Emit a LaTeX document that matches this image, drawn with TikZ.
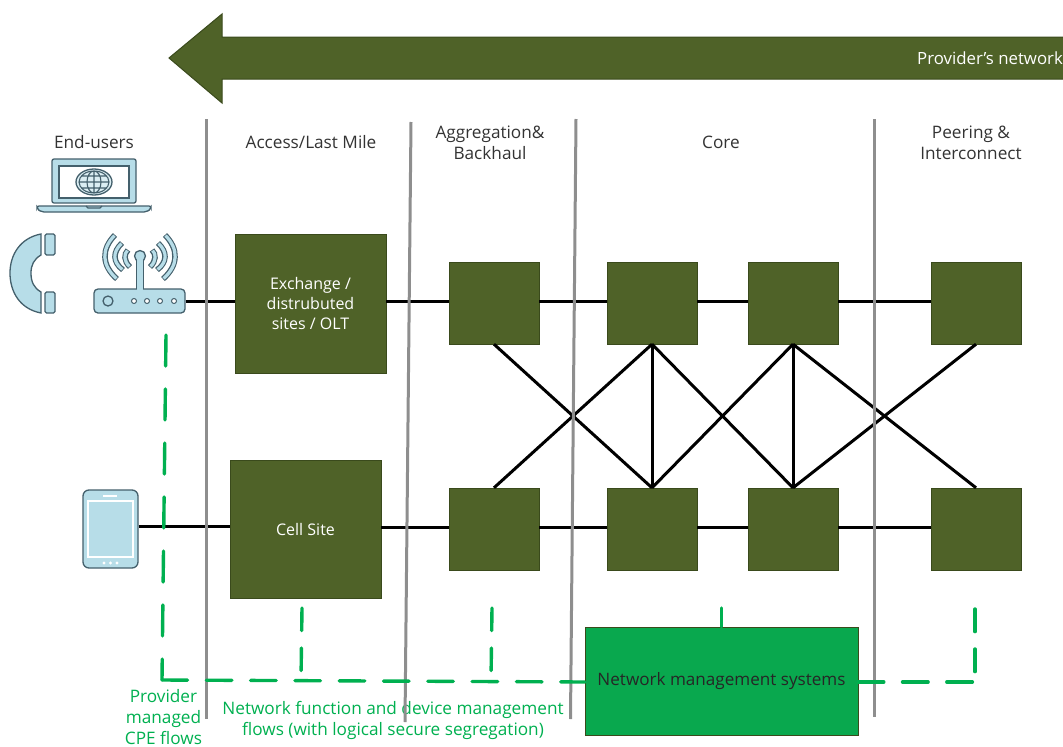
\documentclass[tikz,border=0pt]{standalone}
\usepackage{fontspec}
\setmainfont{Open Sans}
\usetikzlibrary{positioning}
\definecolor{olivebox}{HTML}{4F6228}
\definecolor{olivedark}{HTML}{3A4A1C}
\definecolor{mgmtgreen}{HTML}{00B050}
\definecolor{nmsgreen}{HTML}{09A84E}
\definecolor{iconblue}{HTML}{B7DDE8}
\definecolor{icondark}{HTML}{44606C}
\definecolor{zonegray}{HTML}{8E8E8E}
\tikzset{
  sitebox/.style={draw=olivedark,fill=olivebox,text=white,font=\fontsize{16}{20}\selectfont,align=center,inner sep=0pt},
  corebox/.style={sitebox,minimum width=90pt,minimum height=82pt},
  zonelabel/.style={font=\fontsize{17.2}{21}\selectfont,text=black!80,align=center},
  greenlabel/.style={font=\fontsize{17.2}{21}\selectfont,text=mgmtgreen,align=center},
  link/.style={line width=3pt},
  zoneline/.style={line width=3pt,zonegray},
  flowline/.style={line width=3.4pt,mgmtgreen,line cap=round},
  flow/.style={flowline,dash pattern=on 25.6pt off 18.7pt},
  flowup/.style={flowline,dash pattern=on 22.6pt off 17.4pt},
  flowcpe/.style={flowline,dash pattern=on 31pt off 23pt},
  icon/.style={draw=icondark,fill=iconblue,line width=1.3pt}
}
\begin{document}
\begin{tikzpicture}[x=1pt,y=-1pt]
\useasboundingbox (0,0) rectangle (1063,747);

% big arrow on top
\draw[draw=olivedark,fill=olivebox,line width=1pt] (1064,37) -- (222,37) -- (222,14) -- (169,58) -- (222,103) -- (222,79) -- (1064,79);
\node[anchor=west,text=white,font=\fontsize{16.8}{18}\selectfont,inner sep=0pt] (provider) at (917,58) {Provider's network};

% headings
\node[zonelabel] (users) at (94,142) {End-users};
\node[zonelabel] (access) at (311,142) {Access/Last Mile};
\node[zonelabel] (aggr) at (490,142.5) {Aggregation\&\\Backhaul};
\node[zonelabel] (core) at (721,142) {Core};
\node[zonelabel] (peer) at (971,142.5) {Peering \&\\Interconnect};

% sites
\node[sitebox,minimum width=151pt,minimum height=139pt] (exch) at (310.5,303.5) {Exchange /\\distrubuted\\sites / OLT};
\node[sitebox,minimum width=151pt,minimum height=138pt] (cell) at (305.5,529) {Cell Site};
\foreach \n/\x in {A/494,B/652,C/793,D/976}{
  \node[corebox] (\n-top) at (\x,303) {};
  \node[corebox] (\n-bot) at (\x,529) {};
}
\node[draw=olivedark,fill=nmsgreen,minimum width=273pt,minimum height=108pt,inner sep=0pt,font=\fontsize{17.1}{20}\selectfont,text=black!85] (nms) at (721.5,681) {Network management systems};

% end-user icons
\node[icon,rounded corners=4pt,minimum width=91pt,minimum height=24pt,inner sep=0pt] (router) at (139.5,301) {};
\node[icon,rounded corners=6pt,minimum width=55pt,minimum height=78pt,inner sep=0pt] (tablet) at (110.5,529) {};
\draw[white,line width=1.2pt] (88,501) rectangle (133,557);
\draw[white,line width=1.4pt] (103,496) -- (117,496);
\foreach \x in {104,110.5,117}{
  \fill[white] (\x,563) circle (1.6pt);
}
\draw[icon,rounded corners=2pt] (52,203) -- (52,159) -- (136,159) -- (136,203) -- cycle;
\draw[icondark,fill=white,line width=1.2pt] (59,166) rectangle (129,198);
\draw[icon,rounded corners=2pt] (37,206) -- (151,206) -- (151,209) -- (146,212) -- (42,212) -- (37,209) -- cycle;
\draw[icon,fill=none] (86,206) -- (88,208) -- (100,208) -- (102,206);
\draw[icondark,fill=iconblue!50,line width=1.3pt] (94,182) ellipse (18pt and 13pt);
\draw[icondark,line width=1.1pt] (94,182) ellipse (15pt and 11pt) (94,182) ellipse (7pt and 11pt) (94,171) -- (94,193) (79,182) -- (109,182) (81,176) -- (107,176) (81,188) -- (107,188);
\draw[icon,rounded corners=1.5pt] (45,234) rectangle (55,255);
\draw[icon,rounded corners=1.5pt] (45,292) rectangle (55,313);
\draw[icon] (41,234) .. controls (20,238) and (10,255) .. (10,273) .. controls (10,292) and (20,309) .. (41,313) -- (41,292) .. controls (34,288) and (31,282) .. (31,273) .. controls (31,265) and (34,259) .. (41,255) -- cycle;
\draw[icon] (136.5,289) -- (136.5,260) -- (143.5,260) -- (143.5,289);
\draw[icon] (140,256) circle (5.5pt);
\fill[iconblue] (137.2,258) rectangle (142.8,291);
\draw[icon] (108,301) circle (5pt);
\foreach \x in {134,147,160,174}{
  \draw[icondark,fill=white,line width=1pt] (\x,301) circle (2.5pt);
}
\foreach \xa/\ya/\xc/\yp/\yq/\xb/\yb in {115/235/101.3/249/265/117/279,122/243/112.5/252/262/123/270,128/250/123.7/254/261/130/267}{
  \foreach \m in {0,1}{
    \pgfmathsetmacro{\pa}{\m==0 ? \xa : 280-\xa}
    \pgfmathsetmacro{\pc}{\m==0 ? \xc : 280-\xc}
    \pgfmathsetmacro{\pb}{\m==0 ? \xb : 280-\xb}
    \draw[icondark,line width=5.6pt] (\pa,\ya) .. controls (\pc,\yp) and (\pc,\yq) .. (\pb,\yb);
    \draw[iconblue,line width=3.2pt,shorten <=0.8pt,shorten >=0.8pt] (\pa,\ya) .. controls (\pc,\yp) and (\pc,\yq) .. (\pb,\yb);
  }
}

% links
\draw[link] (router.east) -- (exch.west |- router.east);
\draw[link] (tablet.east |- 0,526) -- (cell.west |- 0,526);
\draw[link] ([yshift=2pt]exch.east |- A-top.west) -- ([yshift=2pt]A-top.west);
\draw[link] ([yshift=2pt]cell.east |- A-bot.west) -- ([yshift=2pt]A-bot.west);
\foreach \a/\b in {A/B,B/C,C/D}{
  \draw[link] ([yshift=2pt]\a-top.east) -- ([yshift=2pt]\b-top.west);
  \draw[link] ([yshift=2pt]\a-bot.east) -- ([yshift=2pt]\b-bot.west);
}
\foreach \a/\b in {A/B,B/A,B/B,B/C,C/B,C/C,C/D,D/C}{
  \draw[link] (\a-top.south) -- (\b-bot.north);
}

% flow labels
\node[greenlabel] (cpeflows) at (163.5,717) {Provider\\managed\\CPE flows};
\node[greenlabel] (mgmtflows) at (393,720) {Network function and device management\\flows (with logical secure segregation)};

% zones
\coordinate (z1a) at (206.5,119); \coordinate (z1b) at (206.5,719);
\coordinate (z2a) at (411,122);   \coordinate (z2b) at (405,722);
\coordinate (z3a) at (576,119);   \coordinate (z3b) at (570.5,719);
\coordinate (z4a) at (874,119);   \coordinate (z4b) at (874,717);
\foreach \i in {1,2,3,4}{
  \draw[zoneline] (z\i a) -- (z\i b);
}

% management flows
\coordinate (corner) at (162,680);
\coordinate (cpe) at (166,335);
\coordinate (farcorner) at (975,682);
\draw[flow] (corner) -- (nms.west |- 0,682);
\draw[flowcpe] (cpe) -- (corner);
\foreach \x/\xe in {302/301,492/491}{
  \draw[flowup] (\x,608) -- (\xe,680);
}
\draw[flowline] (nms.north) -- (nms.north |- 0,608);
\draw[flow] (nms.east |- farcorner) -- (farcorner);
\draw[flowup] (975,609) -- (farcorner);
\end{tikzpicture}
\end{document}
